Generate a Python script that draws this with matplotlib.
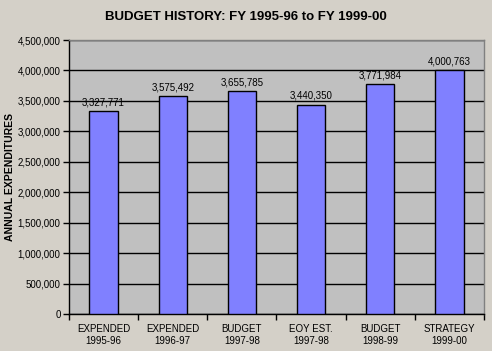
import matplotlib
matplotlib.use("Agg")
import matplotlib.pyplot as plt
import numpy as np
from matplotlib.ticker import FuncFormatter, FixedLocator

categories = ["EXPENDED\n1995-96", "EXPENDED\n1996-97", "BUDGET\n1997-98",
              "EOY EST.\n1997-98", "BUDGET\n1998-99", "STRATEGY\n1999-00"]
values = [3327771, 3575492, 3655785, 3440350, 3771984, 4000763]
yticks = [0, 500000, 1000000, 1500000, 2000000, 2500000, 3000000, 3500000, 4000000, 4500000]

plt.rcParams['font.family'] = ['Liberation Sans', 'DejaVu Sans']

fig = plt.figure(figsize=(4.92, 3.51), dpi=100)
fig.patch.set_facecolor("#D4D0C8")
ax = fig.add_axes([69/492, 1 - 314/351, (484-69)/492, (314-40)/351])
ax.set_facecolor("#C0C0C0")

x = np.arange(len(categories))
ax.bar(x, values, width=0.41, color="#8080FF", edgecolor="black", linewidth=1, zorder=3)
for xi, v in zip(x, values):
    ax.text(xi, v + 60000, f"{v:,}", ha="center", va="bottom", fontsize=7, zorder=4)

ax.set_xlim(-0.5, len(categories) - 0.5)
ax.set_ylim(0, 4500000)
ax.set_yticks(yticks)
ax.yaxis.set_major_formatter(FuncFormatter(lambda v, p: f"{int(v):,}"))
ax.grid(axis="y", color="black", linewidth=1, zorder=1)
ax.set_axisbelow(True)

ax.set_xticks(x)
ax.set_xticklabels(categories, fontsize=7, linespacing=1.25)
ax.tick_params(axis="x", length=0, pad=7)
ax.xaxis.set_minor_locator(FixedLocator(np.arange(-0.5, len(categories), 1.0)))
ax.tick_params(axis="x", which="minor", length=4, width=1, direction="out")
ax.tick_params(axis="y", length=4, width=1, labelsize=7, pad=2)

for s in ["top", "right"]:
    ax.spines[s].set_color("#808080")
    ax.spines[s].set_linewidth(1)
for s in ["left", "bottom"]:
    ax.spines[s].set_color("black")
    ax.spines[s].set_linewidth(1)

fig.text(10/492, 1 - 177/351, "ANNUAL EXPENDITURES", rotation=90,
         ha="center", va="center", fontsize=7.5, fontweight="bold")
fig.text(0.5, 1 - 17/351, "BUDGET HISTORY: FY 1995-96 to FY 1999-00",
         ha="center", va="center", fontsize=9.5, fontweight="bold")

fig.savefig("out.png", dpi=100, facecolor=fig.get_facecolor())
